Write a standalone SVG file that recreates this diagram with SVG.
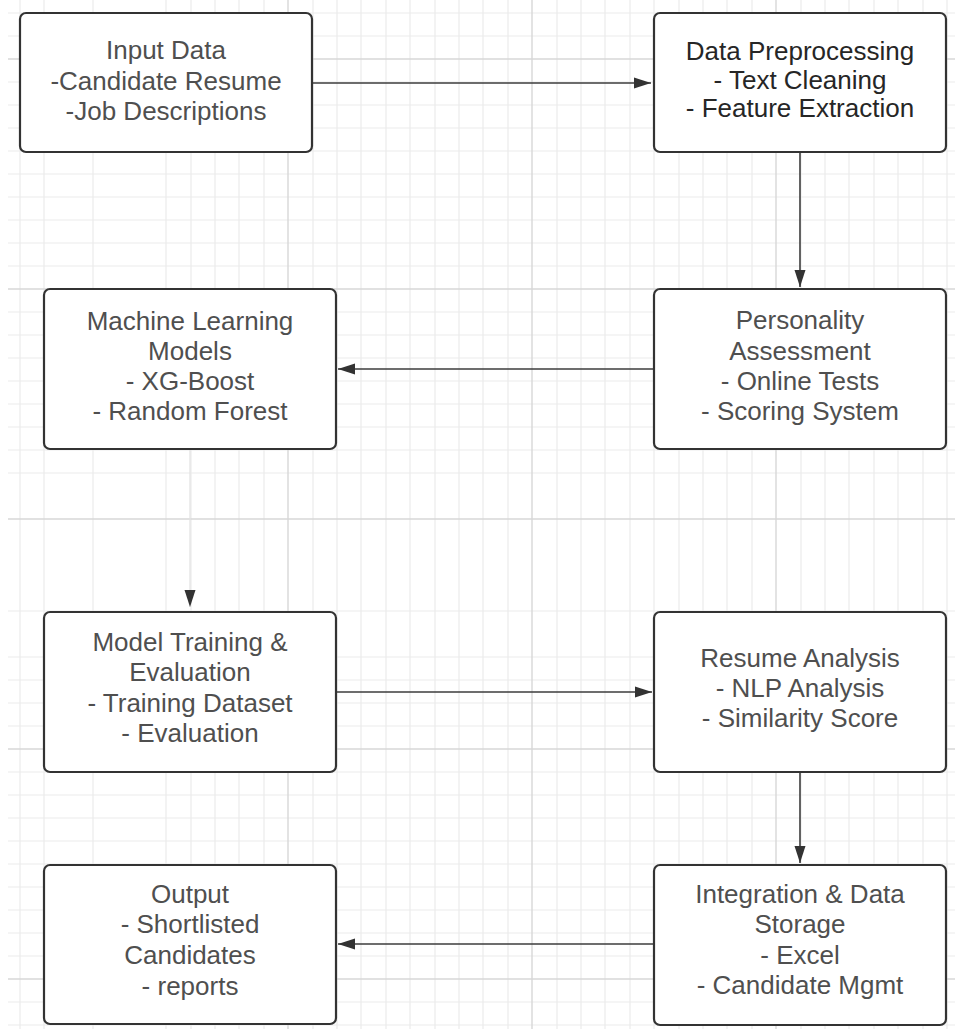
<svg xmlns="http://www.w3.org/2000/svg" width="955" height="1029" viewBox="0 0 955 1029">
<defs>
<style>
.grid{stroke:#ebebeb;stroke-width:1.2;fill:none}
.gridmaj{stroke:#d8d8d8;stroke-width:1.4;fill:none}
.box{fill:#ffffff;stroke:#333333;stroke-width:2.2}
.lbl{font-family:"Liberation Sans",Arial,sans-serif;font-size:26px;fill:#4f4f4f;text-anchor:middle}
.dark{fill:#262626}
.conn{stroke:#3d3d3d;stroke-width:1.6;fill:none}
.faint{stroke:#e2e2e2;stroke-width:1.2;fill:none}
</style>
<marker id="arrow" markerUnits="userSpaceOnUse" markerWidth="18" markerHeight="12" refX="17" refY="6" orient="auto">
<path d="M0,0.5 L17,6 L0,11.5 Z" fill="#333333"/>
</marker>
</defs>
<rect x="0" y="0" width="955" height="1029" fill="#ffffff"/>
<g id="grid">
<path class="grid" d="M20,0V1029 M44,0V1029 M93,0V1029 M166,0V1029 M191,0V1029 M215,0V1029 M239,0V1029 M264,0V1029 M313,0V1029 M337,0V1029 M361,0V1029 M386,0V1029 M410,0V1029 M435,0V1029 M459,0V1029 M483,0V1029 M508,0V1029 M557,0V1029 M581,0V1029 M605,0V1029 M630,0V1029 M654,0V1029 M679,0V1029 M703,0V1029 M727,0V1029 M752,0V1029 M801,0V1029 M825,0V1029 M849,0V1029 M874,0V1029 M898,0V1029 M923,0V1029 M947,0V1029"/>
<path class="grid" d="M8,13H955 M8,36H955 M8,82H955 M8,105H955 M8,128H955 M8,151H955 M8,174H955 M8,197H955 M8,220H955 M8,243H955 M8,266H955 M8,312H955 M8,335H955 M8,358H955 M8,381H955 M8,404H955 M8,427H955 M8,450H955 M8,473H955 M8,611H955 M8,657H955 M8,680H955 M8,703H955 M8,726H955 M8,772H955 M8,795H955 M8,818H955 M8,841H955 M8,864H955 M8,887H955 M8,910H955 M8,933H955 M8,956H955 M8,1002H955 M8,1025H955"/>
<path class="gridmaj" d="M288,0V1029 M532,0V1029 M776,0V1029 M8,59H955 M8,289H955 M8,519H955 M8,749H955 M8,979H955"/>
</g>
<g id="connectors">
<path class="conn" d="M312,83 H651" marker-end="url(#arrow)"/>
<path class="conn" d="M800,152 V287" marker-end="url(#arrow)"/>
<path class="conn" d="M654,369 H338" marker-end="url(#arrow)"/>
<path class="faint" d="M190,449 V607" marker-end="url(#arrow)"/>
<path class="conn" d="M336,692 H652" marker-end="url(#arrow)"/>
<path class="conn" d="M800,772 V863" marker-end="url(#arrow)"/>
<path class="conn" d="M654,944 H338" marker-end="url(#arrow)"/>
</g>
<g id="input-data">
<rect class="box" x="20" y="13" width="292" height="139" rx="6"/>
<text class="lbl" x="166" y="59">Input Data</text>
<text class="lbl" x="166" y="90">-Candidate Resume</text>
<text class="lbl" x="166" y="120">-Job Descriptions</text>
</g>
<g id="data-preprocessing">
<rect class="box" x="654" y="13" width="292" height="139" rx="6"/>
<text class="lbl dark" x="800" y="60">Data Preprocessing</text>
<text class="lbl dark" x="800" y="89">- Text Cleaning</text>
<text class="lbl dark" x="800" y="117">- Feature Extraction</text>
</g>
<g id="machine-learning-models">
<rect class="box" x="44" y="289" width="292" height="160" rx="6"/>
<text class="lbl" x="190" y="330">Machine Learning</text>
<text class="lbl" x="190" y="360">Models</text>
<text class="lbl" x="190" y="390">- XG-Boost</text>
<text class="lbl" x="190" y="420">- Random Forest</text>
</g>
<g id="personality-assessment">
<rect class="box" x="654" y="289" width="292" height="160" rx="6"/>
<text class="lbl" x="800" y="329">Personality</text>
<text class="lbl" x="800" y="360">Assessment</text>
<text class="lbl" x="800" y="390">- Online Tests</text>
<text class="lbl" x="800" y="420">- Scoring System</text>
</g>
<g id="model-training">
<rect class="box" x="44" y="612" width="292" height="160" rx="6"/>
<text class="lbl" x="190" y="651">Model Training &amp;</text>
<text class="lbl" x="190" y="681">Evaluation</text>
<text class="lbl" x="190" y="712">- Training Dataset</text>
<text class="lbl" x="190" y="742">- Evaluation</text>
</g>
<g id="resume-analysis">
<rect class="box" x="654" y="612" width="292" height="160" rx="6"/>
<text class="lbl" x="800" y="667">Resume Analysis</text>
<text class="lbl" x="800" y="697">- NLP Analysis</text>
<text class="lbl" x="800" y="727">- Similarity Score</text>
</g>
<g id="integration-storage">
<rect class="box" x="654" y="865" width="292" height="160" rx="6"/>
<text class="lbl" x="800" y="903">Integration &amp; Data</text>
<text class="lbl" x="800" y="933">Storage</text>
<text class="lbl" x="800" y="964">- Excel</text>
<text class="lbl" x="800" y="994">- Candidate Mgmt</text>
</g>
<g id="output">
<rect class="box" x="44" y="865" width="292" height="159" rx="6"/>
<text class="lbl" x="190" y="903">Output</text>
<text class="lbl" x="190" y="933">- Shortlisted</text>
<text class="lbl" x="190" y="964">Candidates</text>
<text class="lbl" x="190" y="995">- reports</text>
</g>
</svg>
